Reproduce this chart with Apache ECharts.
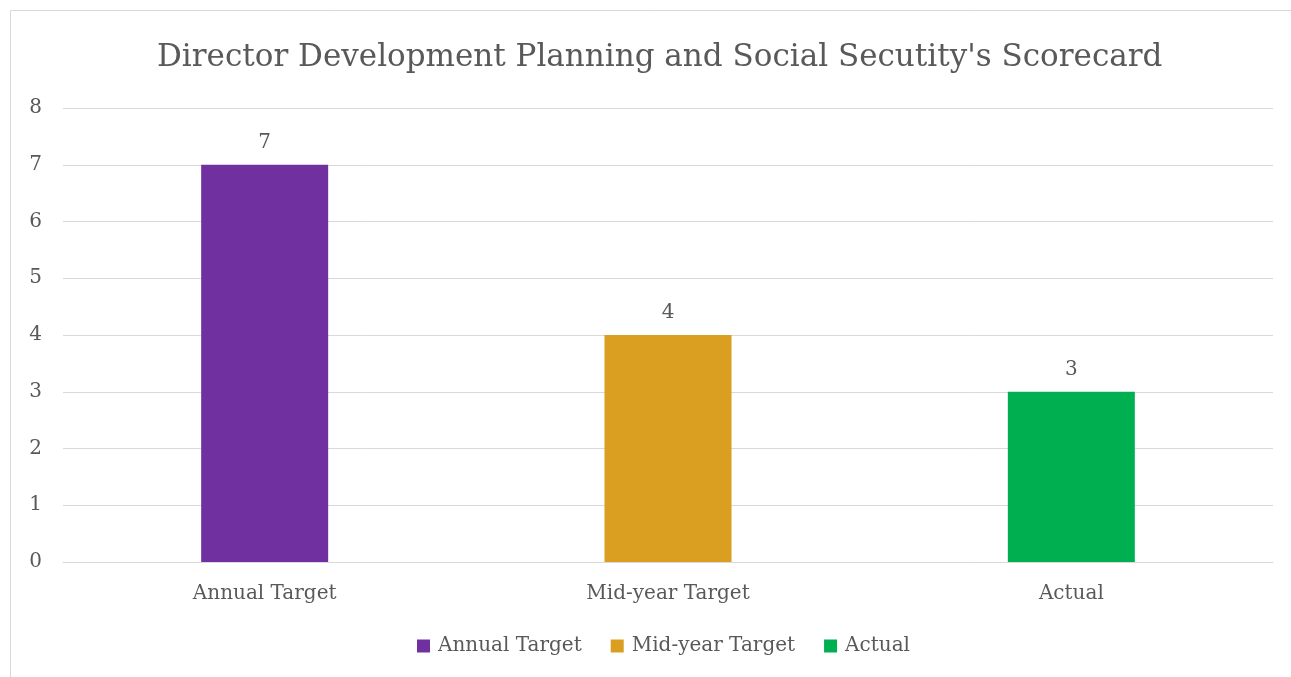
<!DOCTYPE html>
<html>
<head>
<meta charset="utf-8">
<script src="https://cdn.jsdelivr.net/npm/echarts@6/dist/echarts.min.js"></script>
<style>
  html, body { margin: 0; padding: 0; background: #ffffff; }
  #chart { width: 1291px; height: 677px; }
</style>
</head>
<body>
<div id="chart"></div>
<script>
const titleText = "Director Development Planning and Social Secutity's Scorecard";
const categories = ['Annual Target', 'Mid-year Target', 'Actual'];
const values = [7, 4, 3];
const colors = ['#7030A0', '#DA9F21', '#00B050'];
const yTicks = { min: 0, max: 8, interval: 1 };

const fontFamily = "'DejaVu Serif', serif";
const textColor = '#595959';

// one series per category so each gets its own legend entry
const series = categories.map((name, i) => ({
  name: name,
  type: 'bar',
  barWidth: 127,
  barGap: '-100%',
  itemStyle: { color: colors[i] },
  label: {
    show: true,
    position: 'top',
    distance: 12,
    color: textColor,
    fontFamily: fontFamily,
    fontSize: 20
  },
  data: categories.map((c, j) => (j === i ? values[i] : '-'))
}));

const chart = echarts.init(document.getElementById('chart'), null, { renderer: 'canvas' });
chart.setOption({
  backgroundColor: '#ffffff',
  animation: false,
  graphic: [{
    type: 'rect',
    shape: { x: 10.5, y: 10.5, width: 1300, height: 700 },
    style: { fill: 'none', stroke: '#d9d9d9', lineWidth: 1 },
    z: -1
  }],
  title: {
    text: titleText,
    left: 152,
    top: 37,
    textStyle: {
      fontFamily: fontFamily,
      fontWeight: 'normal',
      fontSize: 31,
      color: textColor
    }
  },
  legend: {
    data: categories,
    bottom: 16,
    left: 412,
    icon: 'rect',
    itemWidth: 13,
    itemHeight: 13,
    itemGap: 29,
    textStyle: { fontFamily: fontFamily, fontSize: 20, color: textColor, padding: [0, 0, 0, 3] }
  },
  grid: { left: 63, right: 18, top: 108, bottom: 115, containLabel: false },
  xAxis: {
    type: 'category',
    data: categories,
    axisTick: { show: false },
    axisLine: { lineStyle: { color: '#d9d9d9', width: 1 } },
    axisLabel: { fontFamily: fontFamily, fontSize: 20, color: textColor, margin: 22 }
  },
  yAxis: {
    type: 'value',
    min: yTicks.min,
    max: yTicks.max,
    interval: yTicks.interval,
    axisLine: { show: false },
    axisTick: { show: false },
    splitLine: { lineStyle: { color: '#d9d9d9', width: 1 } },
    axisLabel: { fontFamily: fontFamily, fontSize: 20, color: textColor, margin: 21 }
  },
  series: series
});
</script>
</body>
</html>
